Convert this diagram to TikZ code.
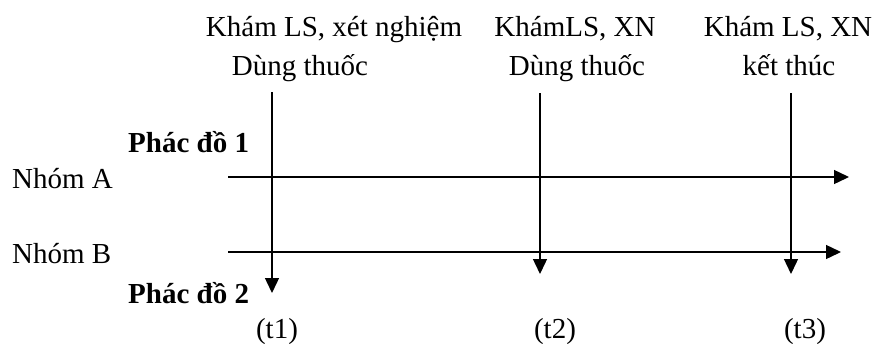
\documentclass[tikz,border=0pt]{standalone}
\usepackage{fontspec}
\setmainfont{Liberation Serif}
\usetikzlibrary{arrows.meta}
\begin{document}
\begin{tikzpicture}[x=1pt,y=-1pt,
  lbl/.style={inner sep=0pt,anchor=base,font=\fontsize{29}{32}\selectfont},
  lblw/.style={inner sep=0pt,anchor=base west,font=\fontsize{29}{32}\selectfont},
  blbl/.style={inner sep=0pt,anchor=base west,font=\fontsize{29}{32}\selectfont\bfseries},
  arr/.style={line width=1.4pt,-{Triangle[length=15pt,width=14pt]}}]
\useasboundingbox (0,0) rectangle (873,343);
% top labels
\node[lbl] (l1a) at (334,36) {Khám LS, xét nghiệm};
\node[lbl] (l1b) at (300,75) {Dùng thuốc};
\node[lbl] (l2a) at (575,36) {KhámLS, XN};
\node[lbl] (l2b) at (577,75) {Dùng thuốc};
\node[lbl] (l3a) at (788,36) {Khám LS, XN};
\node[lbl] (l3b) at (789,75) {kết thúc};
% left labels
\node[blbl] (p1) at (128,152) {Phác đồ 1};
\node[lblw] (na) at (12,188) {Nhóm A};
\node[lblw] (nb) at (12,263) {Nhóm B};
\node[blbl] (p2) at (128,303) {Phác đồ 2};
% time labels
\node[lbl] (t1) at (277,338) {(t1)};
\node[lbl] (t2) at (555,338) {(t2)};
\node[lbl] (t3) at (805,338) {(t3)};
% coordinates
\coordinate (a0) at (228,177);
\coordinate (a1) at (849,177);
\coordinate (b0) at (228,252);
\coordinate (b1) at (841,252);
\coordinate (v1s) at (272,92);
\coordinate (v1e) at (272,293);
\coordinate (v2s) at (540,93);
\coordinate (v2e) at (540,274);
\coordinate (v3s) at (791,93);
\coordinate (v3e) at (791,274);
% arrows
\draw[arr] (a0) -- (a1);
\draw[arr] (b0) -- (b1);
\draw[arr] (v1s) -- (v1e);
\draw[arr] (v2s) -- (v2e);
\draw[arr] (v3s) -- (v3e);
\end{tikzpicture}
\end{document}
